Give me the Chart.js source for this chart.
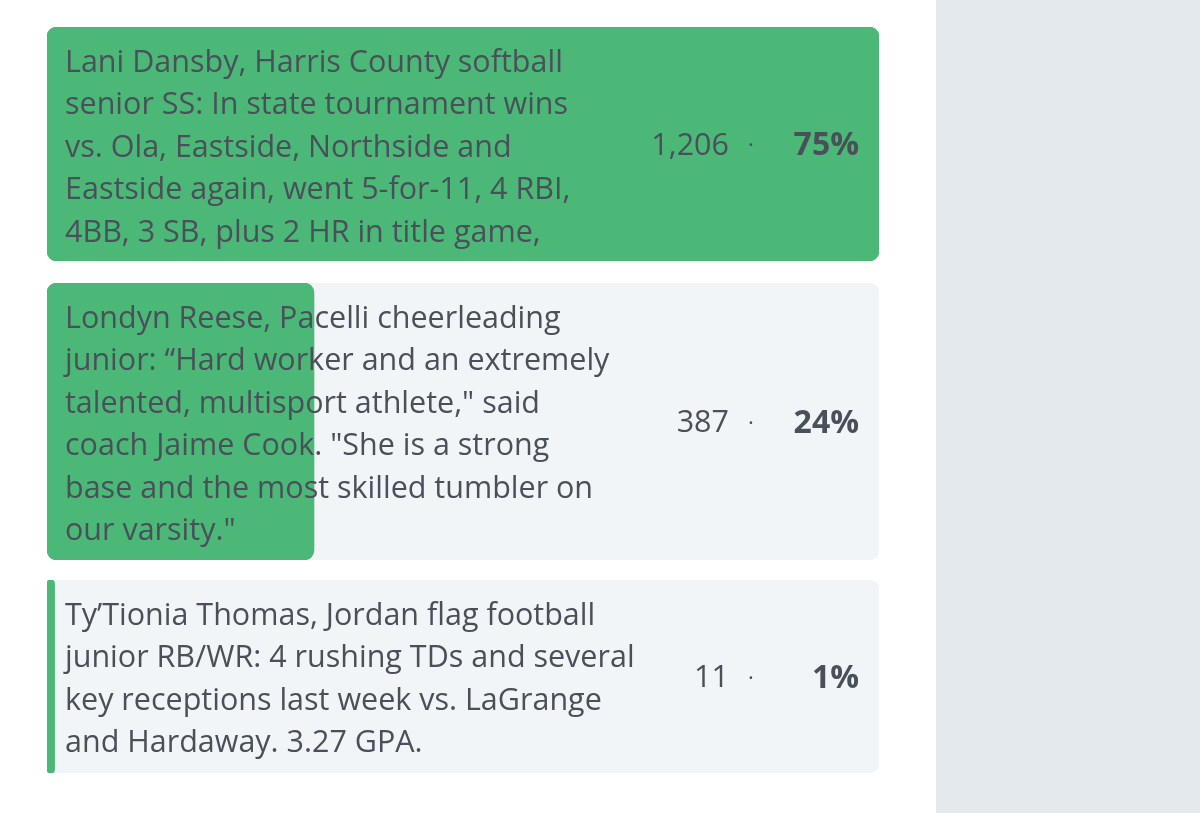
<!DOCTYPE html>
<html>
<head>
<meta charset="utf-8">
<script src="https://cdn.jsdelivr.net/npm/chart.js@4"></script>
<style>
  html, body { margin: 0; padding: 0; background: #ffffff; }
  body { width: 1200px; height: 813px; position: relative; overflow: hidden; }
  .side { position: absolute; left: 936px; top: 0; width: 264px; height: 813px; background: #e3e9ed; }
  .row { position: absolute; left: 47px; width: 832px; }
</style>
</head>
<body>
<div class="side"></div>
<div class="row" style="top:27px;height:234px"><canvas id="row0"></canvas></div>
<div class="row" style="top:283px;height:277px"><canvas id="row1"></canvas></div>
<div class="row" style="top:580px;height:193px"><canvas id="row2"></canvas></div>
<script>
// poll answers, one entry per option (text lines as shown)
var answers = [
  ["Lani Dansby, Harris County softball",
   "senior SS: In state tournament wins",
   "vs. Ola, Eastside, Northside and",
   "Eastside again, went 5-for-11, 4 RBI,",
   "4BB, 3 SB, plus 2 HR in title game,"],
  ["Londyn Reese, Pacelli cheerleading",
   "junior: \u201cHard worker and an extremely",
   "talented, multisport athlete,\" said",
   "coach Jaime Cook. \"She is a strong",
   "base and the most skilled tumbler on",
   "our varsity.\""],
  ["Ty\u2019Tionia Thomas, Jordan flag football",
   "junior RB/WR: 4 rushing TDs and several",
   "key receptions last week vs. LaGrange",
   "and Hardaway. 3.27 GPA."]
];
var votes = [1206, 387, 11];
var percents = [75, 24, 1];

var maxVotes = Math.max.apply(null, votes);
var green = '#4cb878';
var track = '#f2f5f7';
var ink = '#4a505a';
var FONT = '"Open Sans", Lato, sans-serif';

var textPlugin = {
  id: 'pollText',
  afterDatasetsDraw: function (chart) {
    var i = chart.options.plugins.pollText.index;
    var ctx = chart.ctx;
    var area = chart.chartArea;
    var x0 = area.left;
    ctx.save();
    ctx.fillStyle = ink;
    ctx.textBaseline = 'middle';
    ctx.font = '30.5px ' + FONT;
    ctx.textAlign = 'left';
    answers[i].forEach(function (line, k) {
      ctx.fillText(line, x0 + 18, area.top + 36 + k * 42.5);
    });
    var cy = (area.top + area.bottom) / 2 + 2;
    ctx.textAlign = 'right';
    ctx.fillText(votes[i].toLocaleString('en-US'), x0 + 682, cy);
    ctx.textAlign = 'center';
    ctx.font = '22px ' + FONT;
    ctx.fillText('\u00b7', x0 + 704, cy);
    ctx.textAlign = 'right';
    ctx.font = 'bold 32px ' + FONT;
    ctx.fillText(percents[i] + '%', x0 + 812, cy);
    ctx.restore();
  }
};

answers.forEach(function (lines, i) {
  new Chart(document.getElementById('row' + i), {
    type: 'bar',
    data: {
      labels: [lines[0]],
      datasets: [
        {
          data: [votes[i]],
          backgroundColor: green,
          borderRadius: 10,
          borderSkipped: false,
          grouped: false,
          order: 1
        },
        {
          data: [maxVotes],
          backgroundColor: track,
          borderRadius: 10,
          borderSkipped: false,
          grouped: false,
          order: 2
        }
      ]
    },
    options: {
      indexAxis: 'y',
      responsive: true,
      maintainAspectRatio: false,
      animation: false,
      layout: { padding: 0 },
      datasets: { bar: { categoryPercentage: 1, barPercentage: 1 } },
      scales: {
        x: { display: false, min: 0, max: maxVotes },
        y: { display: false }
      },
      plugins: {
        legend: { display: false },
        tooltip: { enabled: false },
        pollText: { index: i }
      }
    },
    plugins: [textPlugin]
  });
});
</script>
</body>
</html>
